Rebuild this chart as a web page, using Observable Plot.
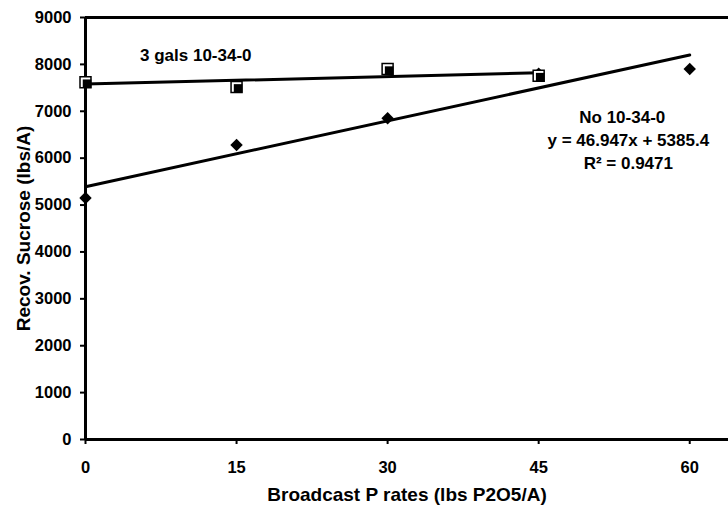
<!DOCTYPE html>
<html>
<head>
<meta charset="utf-8">
<script src="https://cdn.jsdelivr.net/npm/d3@7"></script>
<script src="https://cdn.jsdelivr.net/npm/@observablehq/plot@0.6"></script>
<style>
  html, body { margin: 0; padding: 0; background: #fff; }
  #chart { width: 728px; height: 508px; }
</style>
</head>
<body>
<div id="chart"></div>
<script>
// --- data ---
const rates = [0, 15, 30, 45, 60];
const noStarter = [5150, 6280, 6850, 7800, 7900];        // No 10-34-0 (diamonds)
const starterRates = [0, 15, 30, 45];
const withStarter = [7620, 7520, 7900, 7760];             // 3 gals 10-34-0 (squares)
const xTicks = [0, 15, 30, 45, 60];
const yTicks = [0, 1000, 2000, 3000, 4000, 5000, 6000, 7000, 8000, 9000];
const seriesLabels = ["3 gals 10-34-0", "No 10-34-0"];
const equationText = "y = 46.947x + 5385.4";
const r2Text = "R\u00B2 = 0.9471";

const diamonds = rates.map((x, i) => ({x, y: noStarter[i]}));
const squares = starterRates.map((x, i) => ({x, y: withStarter[i]}));

const notes = [
  {x: 10.95, y: 8190, text: seriesLabels[0]},
  {x: 53.3, y: 6870, text: seriesLabels[1]},
  {x: 53.9, y: 6380, text: equationText},
  {x: 53.9, y: 5890, text: r2Text}
];

const chart = Plot.plot({
  width: 728,
  height: 508,
  marginLeft: 85,
  marginRight: 0,
  marginTop: 17,
  marginBottom: 69,
  style: {fontFamily: "'Liberation Sans', Arial, sans-serif", fontWeight: "bold", fontSize: "17px", background: "#fff", color: "#000"},
  x: {domain: [0, 63.85]},
  y: {domain: [0, 9000]},
  marks: [
    Plot.axisY({
      ticks: yTicks, tickSize: 5, tickPadding: 9, strokeWidth: 2,
      tickFormat: d => String(d), fontSize: 16.5, fontWeight: "bold",
      label: null
    }),
    Plot.axisY({
      ticks: [], tickSize: 0,
      label: "Recov. Sucrose (lbs/A)", labelAnchor: "center", labelArrow: "none", labelOffset: 69,
      fontSize: 19, fontWeight: "bold"
    }),
    Plot.axisX({
      ticks: xTicks, tickSize: 5, tickPadding: 17, strokeWidth: 2,
      tickFormat: d => String(d), fontSize: 16.5, fontWeight: "bold",
      label: null
    }),
    Plot.axisX({
      ticks: [], tickSize: 0,
      label: "Broadcast P rates (lbs P2O5/A)", labelAnchor: "center", labelArrow: "none", labelOffset: 61,
      fontSize: 19, fontWeight: "bold"
    }),
    Plot.ruleY([0], {stroke: "black", strokeWidth: 3}),
    Plot.ruleY([9000], {stroke: "black", strokeWidth: 3}),
    Plot.ruleX([0], {stroke: "black", strokeWidth: 3}),
    Plot.linearRegressionY(diamonds, {x: "x", y: "y", ci: 0, stroke: "black", strokeWidth: 3}),
    Plot.linearRegressionY(squares, {x: "x", y: "y", ci: 0, stroke: "black", strokeWidth: 3}),
    Plot.dot(diamonds, {x: "x", y: "y", symbol: "diamond2", r: 5.6, fill: "black", stroke: "none"}),
    Plot.dot(squares, {x: "x", y: "y", symbol: "square", r: 6.2, fill: "white", stroke: "black", strokeWidth: 1.5}),
    Plot.dot(squares, {x: "x", y: "y", symbol: "square", r: 4.8, fill: "black", stroke: "none", dx: 1.5, dy: 1.5}),
    Plot.text(notes, {x: "x", y: "y", text: "text", fontSize: 17, fontWeight: "bold", fill: "black"})
  ]
});
document.getElementById("chart").appendChild(chart);
</script>
</body>
</html>
